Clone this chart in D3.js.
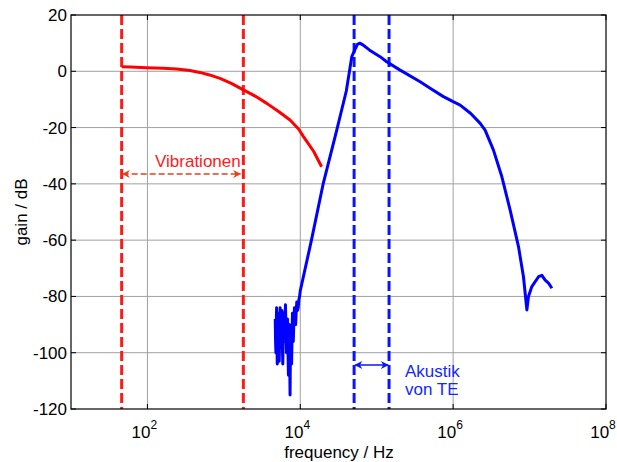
<!DOCTYPE html>
<html>
<head>
<meta charset="utf-8">
<script src="https://cdn.jsdelivr.net/npm/d3@7"></script>
<style>
  body { margin: 0; background: #fff; }
  svg { display: block; font-family: "Liberation Sans", Arial, sans-serif; }
</style>
</head>
<body>
<svg id="chart" width="617" height="462"></svg>
<script>
// ---- data ----
const vibFreq = [46, 60, 98, 160, 240, 360, 484, 650, 890, 1250, 1800, 2600, 3640, 5200, 7340, 9500, 11000, 15000, 19000];
const vibGain = [1.6, 1.5, 1.3, 1.1, 0.8, 0.3, -0.4, -1.3, -2.5, -4.3, -6.6, -8.9, -11.4, -14.3, -17.3, -20.5, -23.2, -28.5, -33.9];

const acuFreq = [4700, 4750, 4800, 4850, 4900, 4950, 5000, 5080, 5150, 5230, 5300, 5380, 5450, 5530, 5600, 5680, 5750, 5830, 5900, 5980, 6050, 6120, 6200, 6300, 6400, 6500, 6600, 6700, 6800, 6900, 7000, 7100, 7200, 7280, 7350, 7420, 7500, 7600, 7700, 7800, 7900, 8000, 8100, 8250, 8400, 8550, 8700, 8850, 9000, 9200, 9400, 9600, 9800,
  10000, 14000, 20000, 30000, 40000, 47200, 52000, 56000, 60000, 65000, 80000, 110700, 135000, 200000, 370000, 500000, 746000, 1000000, 1236000, 1700000, 2260000, 2620000, 3370000, 4340000, 5570000, 7160000, 8320000, 9220000, 9680000, 10700000, 13100000, 14500000, 16000000, 17700000, 19600000];
const acuGain = [-88, -96, -100, -90, -84, -98, -104, -92, -86, -95, -103, -93, -84, -91, -98, -90, -85, -97, -104, -93, -86, -90, -96, -88, -83, -92, -100, -94, -88, -99, -108, -96, -90, -104, -115, -100, -92, -98, -104, -94, -86, -90, -96, -88, -84, -87, -90, -85, -82, -85, -84, -81, -80,
  -78, -60, -39.8, -20.9, -7, 5.2, 7.8, 9.6, 10, 9.5, 7.6, 5.2, 3.4, 0.5, -3.7, -6, -9, -10.8, -12, -15, -18.5, -20.9, -28, -37.5, -49.3, -62.3, -73, -84.8, -80, -76.5, -73, -72.5, -74.2, -75.3, -77.1];

const vibMarkers = [46, 1800];
const acuMarkers = [50600, 145000];

const yTicks = [-120, -100, -80, -60, -40, -20, 0, 20];
const xTickExp = [2, 4, 6, 8];
const xDomain = [10, 1e8];
const yDomain = [-120, 20];

const labels = { x: "frequency / Hz", y: "gain / dB", vib: "Vibrationen", acu1: "Akustik", acu2: "von TE" };

// ---- layout ----
const L = 71, R = 606, T = 15, B = 409;
const FS = 17;
const svg = d3.select("#chart");
const x = d3.scaleLog().domain(xDomain).range([L, R]);
const y = d3.scaleLinear().domain(yDomain).range([B, T]);

// grid
const grid = svg.append("g");
grid.selectAll("line.gx").data(xTickExp.slice(0, 3)).join("line")
  .attr("x1", d => x(Math.pow(10, d))).attr("x2", d => x(Math.pow(10, d)))
  .attr("y1", T).attr("y2", B).attr("stroke", "#a0a0a0").attr("stroke-width", 1);
grid.selectAll("line.gy").data(yTicks.slice(1, -1)).join("line")
  .attr("x1", L).attr("x2", R).attr("y1", d => y(d)).attr("y2", d => y(d))
  .attr("stroke", "#a0a0a0").attr("stroke-width", 1);

// ticks (inward, all four sides)
const tk = 5;
const tg = svg.append("g").attr("stroke", "#000").attr("stroke-width", 1);
yTicks.forEach(v => {
  tg.append("line").attr("x1", L).attr("x2", L + tk).attr("y1", y(v)).attr("y2", y(v));
  tg.append("line").attr("x1", R).attr("x2", R - tk).attr("y1", y(v)).attr("y2", y(v));
});
xTickExp.forEach(e => {
  const px = x(Math.pow(10, e));
  tg.append("line").attr("x1", px).attr("x2", px).attr("y1", B).attr("y2", B - tk);
  tg.append("line").attr("x1", px).attr("x2", px).attr("y1", T).attr("y2", T + tk);
});

// marker lines
const ml = svg.append("g");
ml.selectAll("line.v").data(vibMarkers).join("line")
  .attr("x1", d => x(d)).attr("x2", d => x(d)).attr("y1", T).attr("y2", B)
  .attr("stroke", "#ff1a1a").attr("stroke-width", 3).attr("stroke-dasharray", "10,4");
ml.selectAll("line.a").data(acuMarkers).join("line")
  .attr("x1", d => x(d)).attr("x2", d => x(d)).attr("y1", T).attr("y2", B)
  .attr("stroke", "#0a14ff").attr("stroke-width", 3).attr("stroke-dasharray", "10,4");

// curves
const line = d3.line().x(d => x(d[0])).y(d => y(d[1])).curve(d3.curveLinear);
svg.append("path").datum(vibFreq.map((f, i) => [f, vibGain[i]]))
  .attr("d", line).attr("fill", "none").attr("stroke", "#ff0000").attr("stroke-width", 3)
  .attr("stroke-linejoin", "round");
svg.append("path").datum(acuFreq.map((f, i) => [f, acuGain[i]]))
  .attr("d", line).attr("fill", "none").attr("stroke", "#0000ff").attr("stroke-width", 3)
  .attr("stroke-linejoin", "round");

// axes frame
svg.append("rect").attr("x", L).attr("y", T).attr("width", R - L).attr("height", B - T)
  .attr("fill", "none").attr("stroke", "#000").attr("stroke-width", 1.2);

// tick labels
svg.append("g").selectAll("text").data(yTicks).join("text")
  .attr("x", L - 4).attr("y", d => y(d) + 6).attr("text-anchor", "end")
  .attr("font-size", FS).attr("fill", "#000").text(d => d);
const xl = svg.append("g").selectAll("text").data(xTickExp).join("text")
  .attr("x", d => x(Math.pow(10, d)) - 3).attr("y", 438).attr("text-anchor", "middle")
  .attr("font-size", FS).attr("fill", "#000");
xl.append("tspan").text("10");
xl.append("tspan").attr("dy", -9).attr("font-size", 12).text(d => d);

// axis labels
svg.append("text").attr("x", 339).attr("y", 458).attr("text-anchor", "middle")
  .attr("font-size", FS).text(labels.x);
svg.append("text").attr("transform", "translate(27," + y(-50) + ") rotate(-90)")
  .attr("text-anchor", "middle").attr("font-size", FS).text(labels.y);

// arrowheads
const defs = svg.append("defs");
function marker(id, color) {
  defs.append("marker").attr("id", id).attr("viewBox", "0 0 10 10").attr("refX", 9).attr("refY", 5)
    .attr("markerWidth", 10).attr("markerHeight", 8).attr("markerUnits", "userSpaceOnUse")
    .attr("orient", "auto-start-reverse")
    .append("path").attr("d", "M0,0 L10,5 L0,10 L3,5 Z").attr("fill", color);
}
marker("arrR", "#e04418");
marker("arrB", "#0a14ff");

// Vibrationen annotation
const vy = 174;
svg.append("line").attr("x1", x(vibMarkers[0]) + 1).attr("x2", x(vibMarkers[1]) - 3)
  .attr("y1", vy).attr("y2", vy).attr("stroke", "#e04418").attr("stroke-width", 1.5)
  .attr("stroke-dasharray", "6,3")
  .attr("marker-start", "url(#arrR)").attr("marker-end", "url(#arrR)");
svg.append("text").attr("x", 155).attr("y", 167).attr("font-size", FS).attr("fill", "#ff1a1a")
  .text(labels.vib);

// Akustik annotation
const ay = 365;
svg.append("line").attr("x1", x(acuMarkers[0]) + 1).attr("x2", x(acuMarkers[1]) - 1)
  .attr("y1", ay).attr("y2", ay).attr("stroke", "#0a14ff").attr("stroke-width", 1.5)
  .attr("marker-start", "url(#arrB)").attr("marker-end", "url(#arrB)");
svg.append("text").attr("x", 405).attr("y", 377).attr("font-size", FS).attr("fill", "#1428ff")
  .text(labels.acu1);
svg.append("text").attr("x", 405).attr("y", 395).attr("font-size", FS).attr("fill", "#1428ff")
  .text(labels.acu2);
</script>
</body>
</html>
